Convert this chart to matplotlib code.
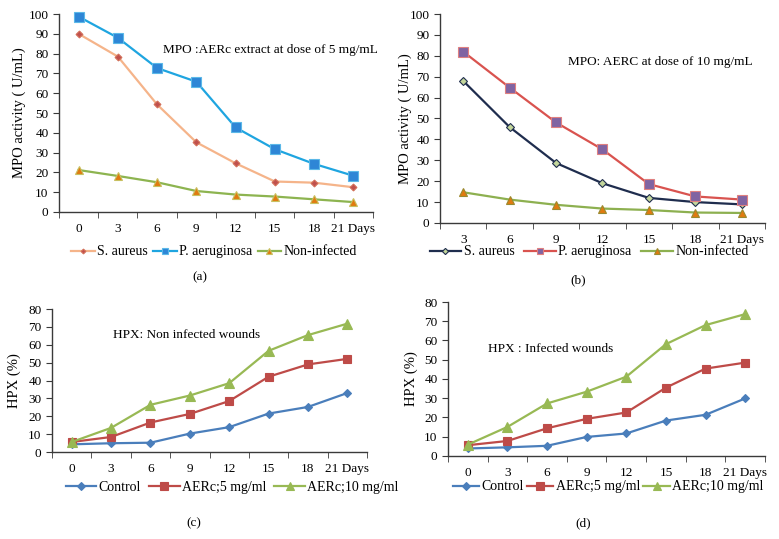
import matplotlib.pyplot as plt

plt.rcParams['font.family'] = ['Liberation Serif', 'DejaVu Serif']
plt.rcParams['font.size'] = 9

# (a) MPO, AERc 5 mg/mL
days_a = ['0', '3', '6', '9', '12', '15', '18', '21 Days']
a_saureus = [90, 78.5, 54.3, 35.2, 24.6, 15.4, 14.8, 12.5]
a_paerug = [98.7, 88, 72.7, 65.8, 42.7, 31.7, 24.3, 18.3]
a_noninf = [21.2, 18.2, 15, 10.6, 8.8, 7.8, 6.4, 5]

# (b) MPO, AERC 10 mg/mL
days_b = ['3', '6', '9', '12', '15', '18', '21 Days']
b_saureus = [68, 45.9, 28.7, 19, 12, 10, 8.9]
b_paerug = [82, 64.8, 48.1, 35.2, 18.6, 12.7, 11.2]
b_noninf = [14.7, 11.2, 8.7, 6.9, 6.2, 5, 4.8]

# (c) HPX, non infected wounds
days_cd = ['0', '3', '6', '9', '12', '15', '18', '21 Days']
c_control = [4.3, 4.9, 5.2, 10.3, 13.9, 21.5, 25.2, 33]
c_aerc5 = [5.6, 8.4, 16.5, 21.3, 28.5, 42.1, 49, 52.1]
c_aerc10 = [5.6, 13.5, 26.4, 31.6, 38.5, 56.6, 65.4, 71.8]

# (d) HPX, infected wounds
d_control = [3.9, 4.5, 5.3, 9.9, 11.7, 18.4, 21.4, 29.9]
d_aerc5 = [5.6, 7.8, 14.4, 19.3, 22.6, 35.5, 45.4, 48.5]
d_aerc10 = [5.9, 15.1, 27.3, 33.4, 41.2, 58.1, 68, 73.7]

fig = plt.figure(figsize=(7.79, 5.39), dpi=100)

axis_col = '#3a3a3a'


def style_axes(ax, labels, ymax, ylabel):
    n = len(labels)
    x = list(range(n))
    ax.set_xlim(-0.5, n - 0.5)
    ax.set_ylim(0, ymax)
    ax.set_yticks(range(0, ymax + 1, 10))
    ax.set_xticks(x)
    ax.set_xticklabels(labels)
    ax.set_xticks([i - 0.5 for i in range(n + 1)], minor=True)
    ax.tick_params(axis='x', which='major', length=0, pad=8, labelsize=9.5)
    ax.tick_params(axis='x', which='minor', length=4, direction='out', color=axis_col)
    ax.tick_params(axis='y', length=4, direction='out', color=axis_col, labelsize=9.5)
    for s in ['top', 'right']:
        ax.spines[s].set_visible(False)
    for s in ['left', 'bottom']:
        ax.spines[s].set_color(axis_col)
        ax.spines[s].set_linewidth(1.0)
    ax.set_ylabel(ylabel, fontsize=10.5)
    return x


def add_series(ax, x, y, line_c, marker, mface, medge, ms, label):
    ax.plot(x, y, color=line_c, lw=1.6, marker=marker, ms=ms,
            markerfacecolor=mface, markeredgecolor=medge, markeredgewidth=0.8,
            label=label, clip_on=False, zorder=3)


def add_legend(ax, anchor, hl=1.8, cs=0.5, mscale=0.7):
    ax.legend(loc='center', bbox_to_anchor=anchor, ncol=3, frameon=False,
              fontsize=10, handlelength=hl, handletextpad=0.15, columnspacing=cs,
              borderpad=0, borderaxespad=0, markerscale=mscale)


# panel (a)
ax_a = fig.add_axes([0.0757, 0.6067, 0.4031, 0.3673])
x = style_axes(ax_a, days_a, 100, 'MPO activity ( U/mL)')
add_series(ax_a, x, a_saureus, '#F5B48A', 'D', '#C0504D', '#D2705A', 3.5, 'S. aureus')
add_series(ax_a, x, a_paerug, '#1FA5E0', 's', '#2E86D6', '#5BB8E8', 6.5, 'P. aeruginosa')
add_series(ax_a, x, a_noninf, '#8DB450', '^', '#E07B10', '#C8C060', 6, 'Non-infected')
ax_a.text(2.15, 82, 'MPO :AERc extract at dose of 5 mg/mL', fontsize=9.5, ha='left', va='center')
add_legend(ax_a, ((214 - 59) / 314, (212 - 252) / 198), hl=1.7, cs=0.4)
ax_a.yaxis.set_label_coords(-0.105, 0.5)

# panel (b)
ax_b = fig.add_axes([0.5648, 0.5863, 0.4172, 0.3877])
x = style_axes(ax_b, days_b, 100, 'MPO activity ( U/mL)')
add_series(ax_b, x, b_saureus, '#1F2D4E', 'D', '#C3D69B', '#1F2D4E', 4.5, 'S. aureus')
add_series(ax_b, x, b_paerug, '#D9534F', 's', '#8064A2', '#E08080', 6.5, 'P. aeruginosa')
add_series(ax_b, x, b_noninf, '#8DB050', '^', '#E07B10', '#9A8A30', 6, 'Non-infected')
ax_b.text(2.25, 77, 'MPO: AERC at dose of 10 mg/mL', fontsize=9.5, ha='left', va='center')
add_legend(ax_b, ((589 - 440) / 325, (223 - 252) / 209), hl=2.3, cs=0.7)
ax_b.yaxis.set_label_coords(-0.086, 0.5)

# panel (c)
ax_c = fig.add_axes([0.0668, 0.1614, 0.4043, 0.2653])
x = style_axes(ax_c, days_cd, 80, 'HPX (%)')
add_series(ax_c, x, c_control, '#4A7EBB', 'D', '#4A7EBB', '#4A7EBB', 4.5, 'Control')
add_series(ax_c, x, c_aerc5, '#BE4B48', 's', '#BE4B48', '#BE4B48', 6, 'AERc;5 mg/ml')
add_series(ax_c, x, c_aerc10, '#98B954', '^', '#98B954', '#98B954', 6.5, 'AERc;10 mg/ml')
ax_c.text(1.05, 65.5, 'HPX: Non infected wounds', fontsize=9.5, ha='left', va='center')
add_legend(ax_c, ((232 - 52) / 315, (452 - 487) / 143), hl=2.2, cs=0.6, mscale=0.85)
ax_c.yaxis.set_label_coords(-0.098, 0.5)

# panel (d)
ax_d = fig.add_axes([0.5751, 0.154, 0.4069, 0.2857])
x = style_axes(ax_d, days_cd, 80, 'HPX (%)')
add_series(ax_d, x, d_control, '#4A7EBB', 'D', '#4A7EBB', '#4A7EBB', 4.5, 'Control')
add_series(ax_d, x, d_aerc5, '#BE4B48', 's', '#BE4B48', '#BE4B48', 6, 'AERc;5 mg/ml')
add_series(ax_d, x, d_aerc10, '#98B954', '^', '#98B954', '#98B954', 6.5, 'AERc;10 mg/ml')
ax_d.text(0.5, 55.6, 'HPX : Infected wounds', fontsize=9.5, ha='left', va='center')
add_legend(ax_d, ((608 - 448) / 317, (456 - 487) / 154), hl=1.9, cs=0.25, mscale=0.85)
ax_d.yaxis.set_label_coords(-0.095, 0.5)

# panel letters
fig.text(200 / 779, 1 - 277 / 539, '(a)', ha='center', va='center', fontsize=9.5)
fig.text(578 / 779, 1 - 280 / 539, '(b)', ha='center', va='center', fontsize=9.5)
fig.text(194 / 779, 1 - 523 / 539, '(c)', ha='center', va='center', fontsize=9.5)
fig.text(583 / 779, 1 - 523 / 539, '(d)', ha='center', va='center', fontsize=9.5)

plt.savefig('out.png', dpi=100)
